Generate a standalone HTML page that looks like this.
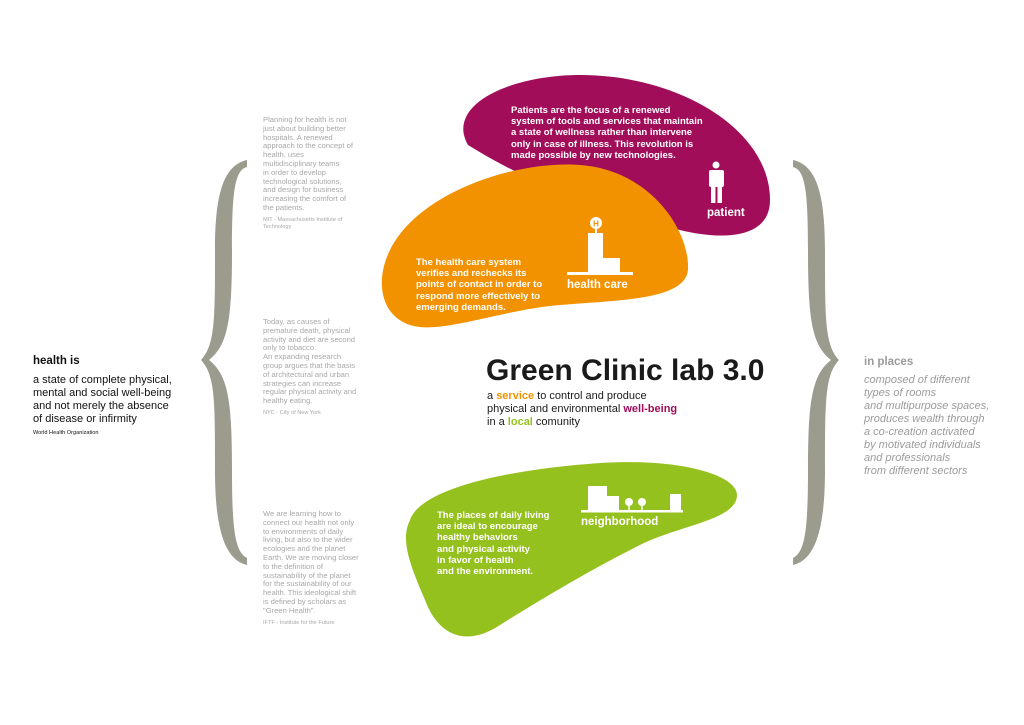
<!DOCTYPE html>
<html><head><meta charset="utf-8"><style>
body{margin:0;width:1024px;height:725px;background:#fff;position:relative;overflow:hidden;font-family:"Liberation Sans",sans-serif;}
.a{position:absolute;white-space:nowrap}
.g{color:#a8a8a8;font-size:7.6px;line-height:8.8px}
.g small{display:block;font-size:5.6px;margin-top:4px;line-height:7px}
.w{color:#fff;font-weight:bold;font-size:9.5px;line-height:11.2px}
</style></head><body>
<svg width="1024" height="725" style="position:absolute;left:0;top:0">
<path d="M468,145 C445,105 510,75 580,75 C680,75 770,130 770,200 C770,240 720,240 680,230 C620,215 540,190 468,145 Z" fill="#a10d59"/>
<path d="M390,250 C420,190 520,160 580,165 C650,170 690,230 688,270 C685,300 620,300 560,305 C500,310 440,335 410,325 C380,315 375,280 390,250 Z" fill="#f39200"/>
<path d="M410,520 C420,490 500,470 600,463 C680,458 737,475 737,495 C737,520 680,525 640,545 C590,570 540,600 500,625 C470,645 440,640 425,600 C410,565 400,540 410,520 Z" fill="#95c11f"/>
<path fill="#9b9c8e" d="M247,160 C225,165 215,190 215,250 C215,320 215,345 201,360 C215,375 215,400 215,470 C215,530 225,560 247,565 L247,558 C235,552 232,530 232,470 C232,400 228,375 209,360 C228,345 232,320 232,250 C232,190 235,170 247,167 Z"/>
<path transform="translate(1040,0) scale(-1,1)" fill="#9b9c8e" d="M247,160 C225,165 215,190 215,250 C215,320 215,345 201,360 C215,375 215,400 215,470 C215,530 225,560 247,565 L247,558 C235,552 232,530 232,470 C232,400 228,375 209,360 C228,345 232,320 232,250 C232,190 235,170 247,167 Z"/>
<g fill="#fff"><circle cx="716" cy="165" r="3.5"/><rect x="709" y="170" width="15" height="17" rx="2"/><rect x="711" y="185" width="4.5" height="18"/><rect x="717.5" y="185" width="4.5" height="18"/></g>
<g fill="#fff"><rect x="567" y="272" width="66" height="3"/><rect x="588" y="233" width="15" height="40"/><rect x="603" y="258" width="17" height="15"/><rect x="595" y="228" width="2" height="6"/><circle cx="596" cy="223" r="6"/></g>
<text x="596" y="226.5" font-size="8" font-weight="bold" fill="#f39200" text-anchor="middle" font-family="Liberation Sans">H</text>
<g fill="#fff"><rect x="581" y="510" width="102" height="2.5"/><rect x="588" y="486" width="19" height="26"/><rect x="607" y="496" width="12" height="16"/><rect x="670" y="494" width="11" height="18"/><circle cx="629" cy="502" r="4"/><circle cx="642" cy="502" r="4"/><rect x="628.3" y="505" width="1.4" height="6"/><rect x="641.3" y="505" width="1.4" height="6"/></g>
</svg>

<div class="a g" style="left:263px;top:116px">Planning for health is not<br>just about building better<br>hospitals. A renewed<br>approach to the concept of<br>health, uses<br>multidisciplinary teams<br>in order to develop<br>technological solutions,<br>and design for business<br>increasing the comfort of<br>the patients.<small>MIT - Massachusetts Institute of<br>Technology</small></div>
<div class="a g" style="left:263px;top:318px">Today, as causes of<br>premature death, physical<br>activity and diet are second<br>only to tobacco.<br>An expanding research<br>group argues that the basis<br>of architectural and urban<br>strategies can increase<br>regular physical activity and<br>healthy eating.<small>NYC - City of New York</small></div>
<div class="a g" style="left:263px;top:510px">We are learning how to<br>connect our health not only<br>to environments of daily<br>living, but also to the wider<br>ecologies and the planet<br>Earth. We are moving closer<br>to the definition of<br>sustainability of the planet<br>for the sustainability of our<br>health. This ideological shift<br>is defined by scholars as<br>"Green Health".<small>IFTF - Institute for the Future</small></div>

<div class="a" style="left:33px;top:355px;font-size:11.5px;font-weight:bold;color:#111">health is</div>
<div class="a" style="left:33px;top:374px;font-size:11px;line-height:13px;color:#111">a state of complete physical,<br>mental and social well-being<br>and not merely the absence<br>of disease or infirmity</div>
<div class="a" style="left:33px;top:430px;font-size:5.6px;color:#111">World Health Organization</div>

<div class="a w" style="left:511px;top:105px">Patients are the focus of a renewed<br>system of tools and services that maintain<br>a state of wellness rather than intervene<br>only in case of illness. This revolution is<br>made possible by new technologies.</div>
<div class="a w" style="left:707px;top:208px;font-size:11.5px">patient</div>
<div class="a w" style="left:416px;top:257px">The health care system<br>verifies and rechecks its<br>points of contact in order to<br>respond more effectively to<br>emerging demands.</div>
<div class="a w" style="left:567px;top:280px;font-size:11.5px">health care</div>
<div class="a w" style="left:437px;top:510px">The places of daily living<br>are ideal to encourage<br>healthy behaviors<br>and physical activity<br>in favor of health<br>and the environment.</div>
<div class="a w" style="left:581px;top:517px;font-size:11.5px">neighborhood</div>

<div class="a" style="left:486px;top:354px;font-size:30px;font-weight:bold;color:#1a1a1a;letter-spacing:0px">Green Clinic lab 3.0</div>
<div class="a" style="left:487px;top:390px;font-size:11px;line-height:13px;color:#1a1a1a">a <b style="color:#f39200">service</b> to control and produce<br>physical and environmental <b style="color:#a10d59">well-being</b><br>in a <b style="color:#95c11f">local</b> comunity</div>

<div class="a" style="left:864px;top:356px;font-size:11.5px;font-weight:bold;color:#9b9b9b">in places</div>
<div class="a" style="left:864px;top:374px;font-size:11px;line-height:13px;font-style:italic;color:#9b9b9b">composed of different<br>types of rooms<br>and multipurpose spaces,<br>produces wealth through<br>a co-creation activated<br>by motivated individuals<br>and professionals<br>from different sectors</div>
</body></html>
